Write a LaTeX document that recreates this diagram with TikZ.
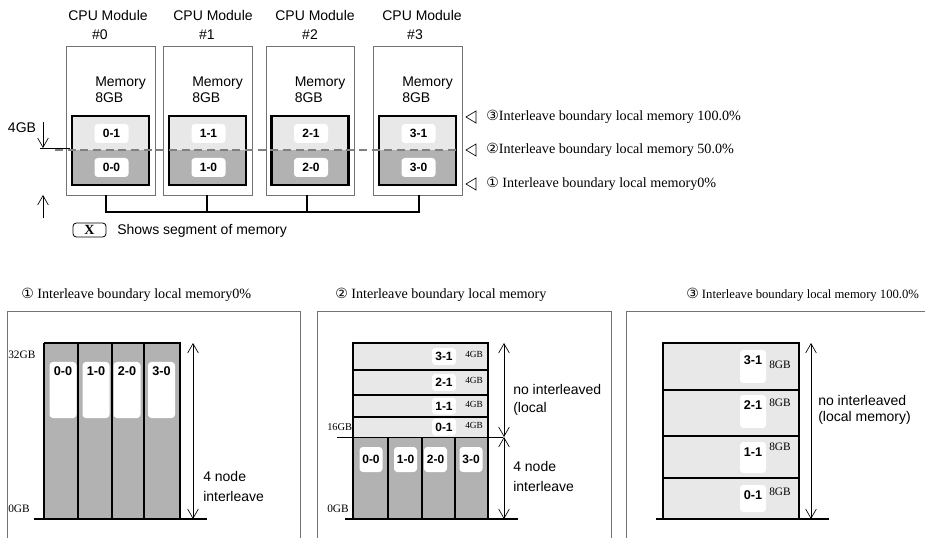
\documentclass[tikz,border=0pt]{standalone}
\usepackage{fontspec}
\setmainfont{Liberation Serif}
\setsansfont{Liberation Sans}
\newfontfamily\circfont{DejaVu Sans}
\newfontfamily\legfont{Liberation Serif}
\usetikzlibrary{arrows.meta}
\definecolor{seglight}{gray}{0.91}
\definecolor{segdark}{gray}{0.70}
\definecolor{framegray}{gray}{0.45}
\definecolor{dashgray}{gray}{0.50}
\newcommand\circnum[1]{{\circfont\fontsize{10.5}{10}\selectfont #1}}

\begin{document}
\begin{tikzpicture}[x=0.75pt,y=-0.75pt,
  sz/.style 2 args={minimum width=(#1)*0.75pt, minimum height=(#2)*0.75pt},
  sans/.style={font=\sffamily\fontsize{10.5}{12}\selectfont, inner sep=0pt},
  note/.style={font=\fontsize{10.6}{12}\selectfont, anchor=west, inner sep=0pt},
  gbl/.style={font=\fontsize{8.5}{10}\selectfont, anchor=west, inner sep=0pt},
  gbs/.style={font=\fontsize{7}{8}\selectfont, anchor=west, inner sep=0pt},
  modbox/.style={draw=framegray, line width=0.6pt, inner sep=0pt},
  membox/.style={draw=black, line width=2pt, inner sep=0pt, fill=seglight,
    path picture={\fill[segdark] (path picture bounding box.west) rectangle (path picture bounding box.south east);}},
  seg/.style={fill=white, rounded corners=2.5pt, inner sep=0pt,
    font=\sffamily\bfseries\fontsize{9}{10}\selectfont},
  segtxt/.style={font=\sffamily\bfseries\fontsize{9.5}{10}\selectfont, inner sep=0pt},
  bus/.style={line width=2pt},
  panel/.style={draw=framegray, line width=0.7pt},
  rowline/.style={line width=0.8pt},
  blockedge/.style={line width=1.5pt},
  barb/.style={-{Straight Barb[length=7pt,width=8pt]}, line width=0.5pt},
  dim/.style={{Straight Barb[length=7pt,width=8pt]}-{Straight Barb[length=7pt,width=8pt]}, line width=0.5pt},
  marker/.style={draw=black, line width=0.5pt}
]
\useasboundingbox (0,0) rectangle (925,538);

% ---------------- CPU modules ----------------
\foreach \i/\cx/\w/\hx/\nx in {0/110.5/89/108/100,1/207.5/89/213/207,2/310/88/315/310,3/417.5/89/422/415}{
  \node[modbox, sz={\w}{149}] (m\i) at (\cx,120.5) {};
  \node[sans] (h\i) at (\hx,16) {CPU Module};
  \node[sans] (n\i) at (\nx,35) {\#\i};
  \node[sans, anchor=west, align=left] (t\i) at (\cx-15.5,90) {Memory\\8GB};
  \node[membox, sz={77}{69}] (mem\i) at (\cx,150.5) {};
  \node[seg, sz={34}{19}] (s\i1) at (\cx+1,133.5) {\i-1};
  \node[seg, sz={34}{19}] (s\i0) at (\cx+1,167.5) {\i-0};
}

% 50% boundary
\coordinate (bdl) at (55,150);
\coordinate (bdr) at (458,150);
\draw[dashgray, line width=2pt, dash pattern=on 6pt off 3.5pt] (bdl) -- (bdr);

% bus
\foreach \i/\bx in {0/106,1/207,2/307,3/419} \coordinate (bus\i) at (\bx,212);
\draw[bus] (m0.south -| bus0) -- (bus0) -- (bus3) -- (m3.south -| bus3);
\draw[bus] (m1.south -| bus1) -- (bus1);
\draw[bus] (m2.south -| bus2) -- (bus2);

% 4GB marker
\node[sans] (g4) at (22,128) {4GB};
\coordinate (lv4a) at (40,148);
\coordinate (lv4b) at (70,148);
\draw[line width=0.6pt] (lv4a) -- (lv4b);
\coordinate (arA) at (43,122);
\coordinate (arB) at (43,148);
\draw[barb] (arA) -- (arB);
\coordinate (arC) at (43,218);
\coordinate (arD) at (43,195);
\draw[barb] (arC) -- (arD);

% legend
\node[draw, line width=0.6pt, rounded corners=2.5pt, sz={33}{14}, inner sep=0pt,
  font=\legfont\bfseries\fontsize{10.5}{10}\selectfont] (lgx) at (89.5,230) {X};
\node[sans, anchor=west] (lgt) at (117,231) {Shows segment of memory};

% boundary markers
\foreach \y in {117,150,184}
  \draw[marker] (466,\y) -- (476,\y-6) -- (476,\y+6) -- cycle;
\node[note] (k3) at (486,117) {\circnum{③}Interleave boundary local memory 100.0\%};
\node[note] (k2) at (486,150) {\circnum{②}Interleave boundary local memory 50.0\%};
\node[note] (k1) at (486,184) {\circnum{①} Interleave boundary local memory0\%};

% ---------------- panel titles ----------------
\node[note] (pt1) at (21,295) {\circnum{①} Interleave boundary local memory0\%};
\node[note] (pt2) at (335,295) {\circnum{②} Interleave boundary local memory};
\node[note, font=\fontsize{9.5}{12}\selectfont] (pt3) at (686,295) {\circnum{③} Interleave boundary local memory 100.0\%};

\draw[panel] (7,545) -- (7,311) -- (300,311) -- (300,545);
\draw[panel] (317,545) -- (317,311) -- (611,311) -- (611,545);
\draw[panel] (626,545) -- (626,311) -- (935,311);

% ---------------- panel 1 ----------------
\fill[segdark] (44,343) rectangle (180,518);
\foreach \x in {78,112,144} \draw[rowline] (\x,343) -- (\x,518);
\draw[line width=1pt] (44,518) -- (44,343);
\draw[blockedge] (44,343) -- (180,343);
\draw[line width=2.2pt] (180,342) -- (180,518);
\foreach \k/\x in {0/63,1/96,2/127,3/161.5}{
  \node[seg, sz={27}{56}] (a\k) at (\x,390) {};
  \node[segtxt, anchor=north] at ([yshift=-3.5pt]a\k.north) {\k-0};
}
\draw[line width=2.2pt] (34,519) -- (207,519);
\coordinate (p1t) at (193,343);
\coordinate (p1b) at (193,519);
\draw[dim] (p1t) -- (p1b);
\node[gbl] at (8,355) {32GB};
\node[gbl] at (8,509) {0GB};
\node[sans, anchor=west, align=left, font=\sffamily\fontsize{10.5}{15}\selectfont] at (203,486) {4 node\\interleave};

% ---------------- panel 2 ----------------
\fill[seglight] (353,343) rectangle (488,437);
\fill[segdark] (353,437) rectangle (488,518);
\foreach \y in {370,395,417} \draw[rowline] (353,\y) -- (488,\y);
\foreach \x in {388,422,455} \draw[rowline] (\x,437) -- (\x,518);
\draw[line width=0.6pt] (337,437) -- (503,437);
\draw[blockedge] (353,518) -- (353,343) -- (488,343);
\draw[line width=2.2pt] (488,342) -- (488,518);
\foreach \k/\y in {3/356.5,2/382.5,1/406,0/427}{
  \node[seg, sz={24}{17}] (b\k) at (444,\y) {\k-1};
  \node[gbs] at (465,\y-2) {4GB};
}
\foreach \k/\x in {0/371,1/405.5,2/435.5,3/471}
  \node[seg, sz={23}{25}] (c\k) at (\x,459.5) {\k-0};
\draw[line width=2.2pt] (345,519) -- (518,519);
\coordinate (p2t) at (504,343);
\coordinate (p2m) at (504,437);
\coordinate (p2b) at (504,519);
\draw[dim] (p2t) -- (p2m);
\draw[dim] (p2m) -- (p2b);
\node[gbl, font=\fontsize{7.8}{9}\selectfont] at (327,427) {16GB};
\node[gbl] at (327,509) {0GB};
\node[sans, anchor=west, align=left, font=\sffamily\fontsize{10.5}{14}\selectfont] at (513,400) {no interleaved\\(local};
\node[sans, anchor=west, align=left, font=\sffamily\fontsize{10.5}{15}\selectfont] at (513,476) {4 node\\interleave};

% ---------------- panel 3 ----------------
\fill[seglight] (663,343) rectangle (799,518);
\foreach \y in {390,436,478} \draw[rowline] (663,\y) -- (799,\y);
\draw[blockedge] (663,518) -- (663,343) -- (799,343);
\draw[line width=2.2pt] (799,342) -- (799,518);
\foreach \k/\yt/\yb/\yg in {3/350/383/365,2/395/428/403,1/442/473/447,0/485/512/492}{
  \node[seg, sz={26}{\yb-\yt}] (d\k) at (753,{(\yt+\yb)/2}) {};
  \node[segtxt, anchor=north] at ([yshift=-4pt]d\k.north) {\k-1};
  \node[gbl] at (769,\yg) {8GB};
}
\draw[line width=2.2pt] (656,519) -- (829,519);
\coordinate (p3t) at (811,343);
\coordinate (p3b) at (811,519);
\draw[dim] (p3t) -- (p3b);
\node[sans, anchor=west, align=left, font=\sffamily\fontsize{10.5}{11.5}\selectfont] at (818,410) {no interleaved\\(local memory)};

\end{tikzpicture}
\end{document}
